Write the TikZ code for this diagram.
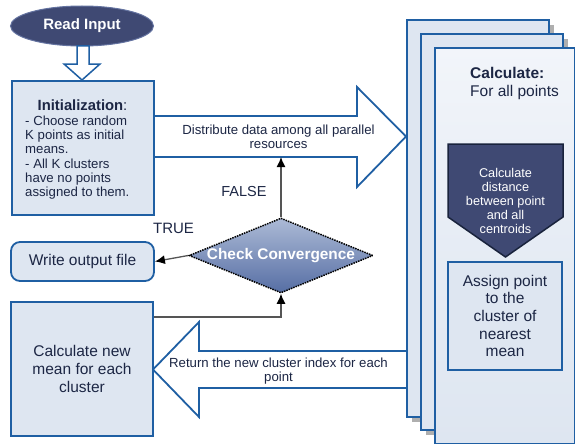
\documentclass[tikz,border=0pt]{standalone}
\usepackage{fontspec}
\setmainfont{Liberation Sans}
\usetikzlibrary{shapes.geometric,arrows.meta}
\definecolor{bord}{RGB}{31,95,163}
\definecolor{lfill}{RGB}{222,230,241}
\definecolor{ftop}{RGB}{242,245,250}
\definecolor{navy}{RGB}{63,73,115}
\definecolor{ellb}{RGB}{100,115,160}
\definecolor{pentb}{RGB}{25,35,60}
\definecolor{txt}{RGB}{28,38,68}
\definecolor{conn}{RGB}{85,85,85}
\definecolor{shad}{RGB}{175,175,175}
\definecolor{dtop}{RGB}{172,186,214}
\definecolor{dbot}{RGB}{86,110,164}
\tikzset{
  box/.style={draw=bord, line width=1.8pt, fill=lfill, text=txt, inner sep=0pt},
  small/.style={font=\fontsize{13.2}{14.3}\selectfont},
  big/.style={font=\fontsize{15.5}{17.7}\selectfont},
  fat/.style={draw=bord, line width=1.8pt, fill=white},
  conline/.style={draw=conn, line width=1.3pt, -{Latex[length=10pt,width=9pt,color=black]}},
}
\begin{document}
\begin{tikzpicture}[x=1pt,y=-1pt]
\useasboundingbox (0,0) rectangle (575,444);

% fat arrows (drawn first, covered by boxes at their ends)
\path[fat] (148,116) -- (357,116) -- (357,87) -- (406,136.5) -- (357,187) -- (357,157) -- (148,157) -- cycle;
\node[small, text=txt, align=center] (disttxt) at (278.5,136.5) {Distribute data among all parallel\\resources};
\coordinate (distbot) at (281,157);

\path[fat] (412,351) -- (199,351) -- (199,322) -- (153,369.5) -- (199,417) -- (199,388) -- (412,388) -- cycle;
\node[small, text=txt, align=center] (rettxt) at (278.5,371) {Return the new cluster index for each\\point};

% read input
\node[ellipse, draw=ellb, line width=1pt, fill=navy, minimum width=143pt, minimum height=40pt,
      inner sep=0pt, text=white, font=\bfseries\fontsize{15}{18}\selectfont] (read) at (82,26) {Read Input};
\path[fat, line width=1.5pt] (77,46) -- (89,46) -- (89,64) -- (100,64) -- (82,80) -- (64,64) -- (77,64) -- cycle;

% initialization
\node[box, minimum width=142pt, minimum height=134pt, anchor=north west] (init) at (11,80) {};
\node[text=txt, font=\fontsize{14.8}{17}\selectfont, anchor=base] (inittitle) at (82.5,110.5) {\textbf{Initialization}:};
\node[small, text=txt, align=left, anchor=north west, inner sep=0pt] (initbody) at (25,115.5)
  {- Choose random\\K points as initial\\means.\\- All K clusters\\have no points\\assigned to them.};

% write output
\node[box, rounded corners=9pt, minimum width=143pt, minimum height=39pt, font=\fontsize{15.5}{18}\selectfont] (write) at (82.5,261.5) {Write output file};

% calculate new mean
\node[box, minimum width=142pt, minimum height=134pt, big, align=center] (mean) at (82,369) {Calculate new\\mean for each\\cluster};

% stack of boxes
\fill[shad] (412,25) rectangle (554,422);
\node[box, minimum width=142pt, minimum height=397pt, anchor=north west] (back) at (406,19) {};
\fill[shad] (426,39) rectangle (568,435);
\node[box, minimum width=142pt, minimum height=396pt, anchor=north west] (mid) at (420,33) {};
\node[draw=bord, line width=1.8pt, top color=ftop, bottom color=lfill, middle color=lfill!60!ftop,
      minimum width=139.5pt, minimum height=395.5pt, inner sep=0pt, anchor=north west] (front) at (434,47) {};
\node[big, text=txt, align=left, anchor=north west, inner sep=0pt] (calchead) at (470,67.5) {\textbf{Calculate:}\\For all points};

% pentagon
\path[fill=navy, draw=pentb, line width=1.5pt] (448,144) -- (563,144) -- (563,217) -- (505.5,257) -- (448,217) -- cycle;
\node[text=white, align=center, font=\fontsize{12.7}{14}\selectfont] (dist) at (505.5,201) {Calculate\\distance\\between point\\and all\\centroids};

% assign
\node[box, minimum width=114pt, minimum height=108pt, big, align=center] (assign) at (505,316) {Assign point\\to the\\cluster of\\nearest\\mean};

% convergence diamond
\node[diamond, minimum width=184pt, minimum height=75pt, inner sep=0pt, top color=dtop, bottom color=dbot,
      draw=black, densely dotted, line width=1.5pt] (conv) at (281,255.5) {};
\node[text=white, font=\bfseries\fontsize{15.4}{18}\selectfont] (convtxt) at (conv.center) {Check Convergence};

% connectors
\draw[conline] (conv.north) -- (distbot);
\draw[conline] (conv.west) -- (write.east);
\draw[conline] ([yshift=52pt]mean.east) -| (conv.south);

\node[text=txt, font=\fontsize{15}{18}\selectfont] (truel) at (173.5,228) {TRUE};
\node[text=txt, font=\fontsize{14.5}{18}\selectfont] (falsel) at (244,192) {FALSE};
\end{tikzpicture}
\end{document}
